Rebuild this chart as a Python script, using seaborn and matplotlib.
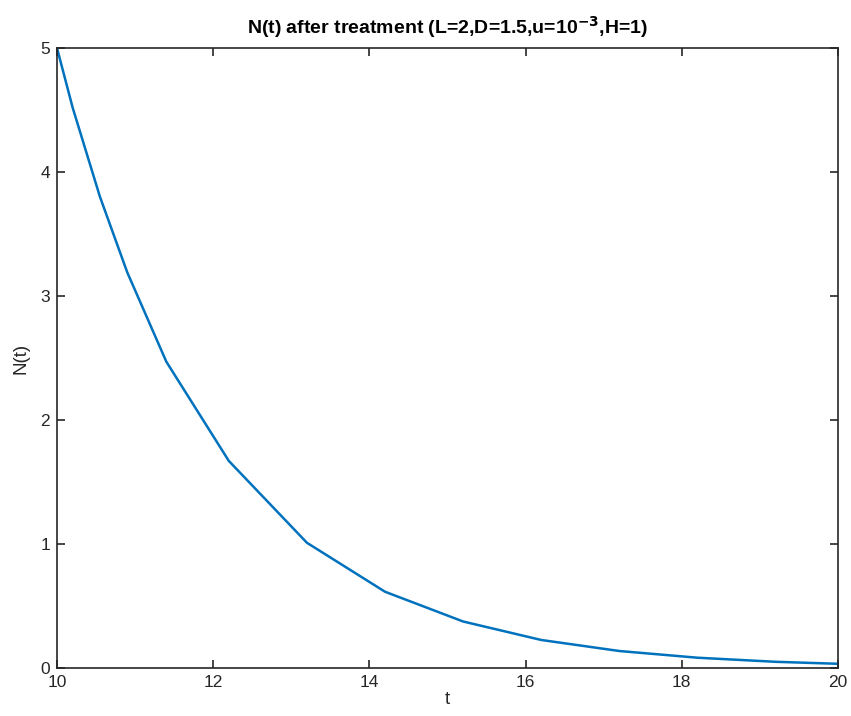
import matplotlib
matplotlib.use("Agg")
import matplotlib.pyplot as plt
import seaborn as sns
import pandas as pd

# Solver output: time steps and population after treatment
t = [10.0, 10.2, 10.55, 10.9, 11.4, 12.2, 13.2, 14.2, 15.2, 16.2, 17.2, 18.2, 19.2, 20.0]
n = [5.0, 4.52, 3.80, 3.19, 2.47, 1.67, 1.01, 0.615, 0.375, 0.226, 0.137, 0.083, 0.050, 0.034]

xticks = [10, 12, 14, 16, 18, 20]
yticks = [0, 1, 2, 3, 4, 5]

sns.set_style("white")
plt.rcParams["font.family"] = ["Liberation Sans", "DejaVu Sans"]

df = pd.DataFrame({"t": t, "N": n})

fig = plt.figure(figsize=(8.51, 7.16), dpi=100)
ax = fig.add_axes([57 / 851, 1 - 668 / 716, (838 - 57) / 851, (668 - 48) / 716])

sns.lineplot(data=df, x="t", y="N", ax=ax, color="#0072BD", linewidth=1.8,
             sort=False, estimator=None)

ax.set_xlim(10, 20)
ax.set_ylim(0, 5)
ax.set_xticks(xticks)
ax.set_yticks(yticks)
ax.set_xticklabels([str(v) for v in xticks])
ax.set_yticklabels([str(v) for v in yticks])

for side in ax.spines.values():
    side.set_visible(True)
    side.set_color("#262626")
    side.set_linewidth(1.2)

ax.tick_params(axis="both", which="both", direction="in", length=6, width=1.2,
               color="#262626", labelcolor="#262626", labelsize=12.5,
               top=True, right=True, bottom=True, left=True, pad=5)

ax.set_xlabel("t", fontsize=13.5, color="#262626", labelpad=1)
ax.set_ylabel("N(t)", fontsize=13.5, color="#262626", labelpad=8)
ax.set_title(r"N(t) after treatment (L=2,D=1.5,u=10$^{\mathbf{-3}}$,H=1)",
             fontsize=14, fontweight="bold", color="black", pad=10)

fig.savefig("out.png", dpi=100, facecolor="white")
